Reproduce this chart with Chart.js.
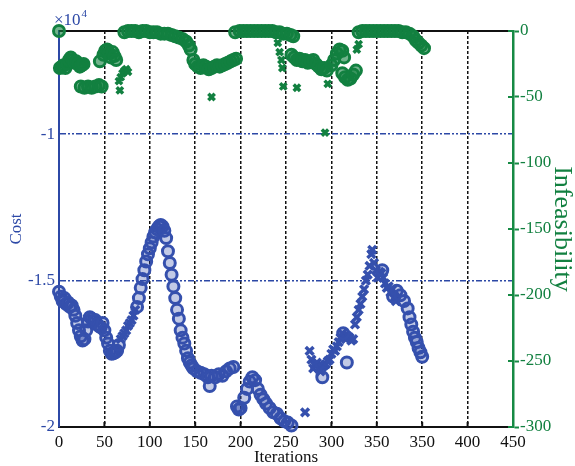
<!DOCTYPE html>
<html>
<head>
<meta charset="utf-8">
<script src="https://cdn.jsdelivr.net/npm/chart.js@4/dist/chart.umd.min.js"></script>
<style>
  body { margin: 0; background: #fff; }
  canvas { display: block; }
</style>
</head>
<body>
<canvas id="chart" width="575" height="466"></canvas>
<script>
// x axis runs 0..500 internally, labels copied from the figure (it repeats 350)
const xTickValues = [0, 50, 100, 150, 200, 250, 300, 350, 400, 450, 500];
const xTickLabels = ['0', '50', '100', '150', '200', '250', '300', '350', '350', '400', '450'];

const costTicks = [-20000, -15000, -10000];
const costTickLabels = ['-2', '-1.5', '-1'];

// cost, circle markers
const costCircleIter = [0, 2, 4, 6, 8, 10, 12, 14, 16, 18, 20, 22, 24, 26, 28, 30, 32, 34, 36, 38,
  40, 42, 44, 46, 48, 50, 52, 54, 56, 58, 60, 62, 64, 66, 86, 88, 90, 92, 94, 96,
  98, 100, 102, 104, 106, 108, 110, 112, 114, 116, 118, 120, 122, 124, 126, 128, 130, 132, 134, 136,
  138, 140, 142, 144, 146, 148, 152, 156, 160, 164, 166, 168, 172, 176, 180, 184, 188, 192, 196, 198,
  200, 204, 207, 210, 213, 216, 219, 222, 225, 228, 232, 236, 240, 244, 248, 252, 256, 290, 313, 317,
  356, 368, 372, 376, 380, 384, 386, 388, 390, 392, 394, 396, 398, 400];
const costCircleVal = [-15380, -15550, -15700, -15600, -15800, -15750, -15900, -15850, -16000, -16200,
  -16450, -16700, -16900, -17050, -17000, -16700, -16400, -16250, -16300, -16400,
  -16350, -16500, -16550, -16600, -16450, -16700, -16950, -17150, -17400, -17500,
  -17480, -17450, -17400, -17200, -15900, -15600, -15250, -14950, -14650, -14350,
  -14100, -13900, -13700, -13500, -13350, -13250, -13150, -13100, -13150, -13300,
  -13550, -14000, -14400, -14800, -15200, -15600, -16000, -16300, -16700, -16950,
  -17150, -17400, -17650, -17800, -17900, -18000, -18100, -18150, -18200, -18300,
  -18600, -18250, -18300, -18200, -18250, -18100, -18000, -17950, -19300, -19400,
  -19350, -19000, -18700, -18450, -18300, -18400, -18700, -18900, -19050, -19200,
  -19350, -19500, -19550, -19700, -19800, -19850, -19950, -18300, -16800, -17800,
  -14650, -15550, -15350, -15500, -15700, -15950, -16250, -16500, -16750, -16950,
  -17100, -17300, -17450, -17600];

// cost, x markers
const costCrossIter = [68, 70, 72, 74, 76, 78, 80, 82, 84, 271, 276, 278, 280, 282, 284, 286, 288, 290,
  292, 294, 296, 298, 300, 302, 304, 306, 308, 310, 312, 314, 316, 318, 320, 322, 324, 326,
  328, 330, 332, 334, 336, 338, 340, 342, 344, 345, 347, 349, 351, 353, 355, 357, 359, 361,
  363, 365, 367, 369, 371];
const costCrossVal = [-17000, -16900, -16800, -16700, -16550, -16450, -16350, -16200, -16000, -19500,
  -17400, -17700, -18000, -17900, -17800, -18000, -18100, -17950, -17900, -17850,
  -17750, -17700, -17500, -17350, -17400, -17250, -17100, -16950, -16800, -16900,
  -17000, -16900, -16950, -17050, -17000, -16500, -16250, -16000, -15800, -15550,
  -15300, -15000, -14800, -14500, -14100, -13950, -14400, -14650, -14900, -14700,
  -14750, -14900, -15100, -15250, -15200, -15400, -15300, -15600, -15700];

// infeasibility, circle markers
const infCircleIter = [0, 1, 3, 5, 7, 9, 11, 13, 15, 17, 19, 21, 23, 25, 27, 24, 28, 32, 36, 40,
  44, 47, 45, 49, 51, 53, 55, 57, 59, 61, 63, 72, 76, 80, 84, 88, 92, 96, 100, 104,
  108, 112, 116, 120, 124, 128, 132, 136, 140, 143, 145, 148, 150, 153, 156, 159, 162, 165, 168, 171,
  174, 177, 180, 183, 186, 189, 192, 195, 194, 199, 203, 207, 211, 215, 219, 223, 227, 231, 235, 239,
  243, 247, 251, 255, 258, 256, 259, 262, 265, 268, 271, 274, 277, 280, 283, 286, 289, 292, 295, 300,
  303, 306, 309, 312, 314, 312, 315, 318, 321, 324, 327, 330, 334, 338, 342, 346, 350, 354, 358, 362,
  366, 370, 374, 378, 382, 386, 390, 393, 396, 399, 402];
const infCircleVal = [0, -28, -27, -26, -28, -25, -22, -20, -22, -24, -23, -25, -27, -26, -25, -42, -43, -42, -43, -42,
  -41, -42, -23, -18, -15, -14, -17, -20, -16, -19, -22, -1, 0, 0, 0, -1, 0, 0, -1, -1,
  -1, -2, -2, -2, -3, -4, -5, -6, -8, -11, -14, -22, -25, -27, -28, -26, -27, -29, -28, -27,
  -26, -27, -26, -25, -24, -23, -22, -21, -1, 0, 0, 0, 0, 0, 0, 0, 0, 0, 0, -1,
  -1, -2, -2, -3, -4, -18, -20, -22, -21, -23, -22, -24, -23, -22, -25, -27, -29, -28, -30, -26,
  -22, -17, -14, -15, -20, -32, -35, -37, -36, -33, -30, -1, 0, 0, 0, 0, 0, 0, 0, 0,
  0, 0, 0, -1, -1, -2, -4, -7, -9, -11, -13];

// infeasibility, x markers
const infCrossIter = [66, 68, 70, 72, 74, 76, 67, 168, 241, 243, 245, 246, 247, 262, 293, 296, 328, 330];
const infCrossVal = [-38, -35, -32, -30, -29, -31, -45, -50, -9, -16, -22, -28, -42, -43, -77, -40, -14, -10];

const blue = '#3550ad';
const blueAxis = '#2c48a6';
const green = '#128040';
const greenAxis = '#168a44';
const serif = "'Liberation Serif', 'Times New Roman', serif";

function points(xs, ys) {
  return xs.map((x, i) => ({ x: x, y: ys[i] }));
}

const framePlugin = {
  id: 'frame',
  beforeDatasetsDraw(chart) {
    const { ctx, chartArea: a, scales } = chart;
    ctx.save();
    ctx.strokeStyle = '#111';
    ctx.lineWidth = 2;
    ctx.beginPath();
    ctx.moveTo(a.left, a.top);
    ctx.lineTo(a.right, a.top);
    ctx.stroke();
    // short inward ticks on the bottom axis
    xTickValues.slice(1, -1).forEach(v => {
      const px = scales.x.getPixelForValue(v);
      ctx.beginPath();
      ctx.moveTo(px, a.bottom);
      ctx.lineTo(px, a.bottom - 5);
      ctx.stroke();
    });
    // right axis ticks cross the axis line
    ctx.strokeStyle = greenAxis;
    scales.y2.ticks.forEach(t => {
      const py = scales.y2.getPixelForValue(t.value);
      ctx.beginPath();
      ctx.moveTo(a.right - 5, py);
      ctx.lineTo(a.right, py);
      ctx.stroke();
    });
    ctx.restore();
  },
  afterDraw(chart) {
    const { ctx, chartArea: a } = chart;
    ctx.save();
    ctx.fillStyle = blueAxis;
    ctx.textBaseline = 'alphabetic';
    ctx.font = '17px ' + serif;
    ctx.fillText('\u00d710', a.left - 5, a.top - 6);
    const w = ctx.measureText('\u00d710').width;
    ctx.font = '11px ' + serif;
    ctx.fillText('4', a.left - 5 + w + 1, a.top - 14);
    ctx.restore();
  }
};

new Chart(document.getElementById('chart'), {
  type: 'scatter',
  data: {
    datasets: [
      {
        label: 'Cost',
        data: points(costCircleIter, costCircleVal),
        yAxisID: 'y',
        pointStyle: 'circle',
        pointRadius: 5.5,
        borderWidth: 3,
        borderColor: blue,
        backgroundColor: 'rgba(53,80,173,0.3)',
        clip: false
      },
      {
        label: 'Cost x',
        data: points(costCrossIter, costCrossVal),
        yAxisID: 'y',
        pointStyle: 'crossRot',
        pointRadius: 5.5,
        borderWidth: 3.5,
        borderColor: blue,
        backgroundColor: blue,
        clip: false
      },
      {
        label: 'Infeasibility',
        data: points(infCircleIter, infCircleVal),
        yAxisID: 'y2',
        pointStyle: 'circle',
        pointRadius: 5.5,
        borderWidth: 3,
        borderColor: green,
        backgroundColor: 'rgba(18,128,64,0.6)',
        clip: false
      },
      {
        label: 'Infeasibility x',
        data: points(infCrossIter, infCrossVal),
        yAxisID: 'y2',
        pointStyle: 'crossRot',
        pointRadius: 4.5,
        borderWidth: 3.5,
        borderColor: green,
        backgroundColor: green,
        clip: false
      }
    ]
  },
  options: {
    responsive: false,
    animation: false,
    layout: { padding: { top: 31, left: 0, right: 0, bottom: 0 } },
    plugins: {
      legend: { display: false },
      tooltip: { enabled: false }
    },
    scales: {
      x: {
        type: 'linear',
        position: 'bottom',
        min: 0,
        max: 500,
        afterBuildTicks: s => { s.ticks = xTickValues.map(v => ({ value: v })); },
        afterFit: s => { s.height = 39; },
        ticks: {
          color: '#111',
          padding: 5,
          maxRotation: 0,
          autoSkip: false,
          font: { family: serif, size: 17 },
          callback: (v, i) => xTickLabels[i]
        },
        grid: {
          drawTicks: false,
          lineWidth: 1.5,
          color: c => (c.tick && (c.tick.value === 0 || c.tick.value === 500)) ? 'rgba(0,0,0,0)' : '#111'
        },
        border: { color: '#111', width: 2, dash: [3, 2] },
        title: {
          display: true,
          text: 'Iterations',
          color: '#111',
          padding: 0,
          font: { family: serif, size: 17, lineHeight: 1 }
        }
      },
      y: {
        type: 'linear',
        position: 'left',
        min: -20000,
        max: -6480,
        afterBuildTicks: s => { s.ticks = costTicks.map(v => ({ value: v })); },
        afterFit: s => { s.width = 59; },
        ticks: {
          color: blueAxis,
          padding: 4,
          font: { family: serif, size: 17 },
          callback: (v, i) => costTickLabels[i]
        },
        grid: {
          drawTicks: false,
          lineWidth: 1.5,
          color: c => (c.tick && c.tick.value === -20000) ? 'rgba(0,0,0,0)' : blueAxis
        },
        border: { color: blueAxis, width: 2, dash: [6, 2, 2, 2, 2, 2] },
        title: {
          display: true,
          text: 'Cost',
          color: blueAxis,
          padding: 8,
          font: { family: serif, size: 17, lineHeight: 1 }
        }
      },
      y2: {
        type: 'linear',
        position: 'right',
        min: -300,
        max: 0,
        afterFit: s => { s.width = 62; },
        ticks: {
          stepSize: 50,
          color: green,
          padding: 1,
          font: { family: serif, size: 17 }
        },
        grid: {
          drawOnChartArea: false,
          drawTicks: true,
          tickLength: 6,
          tickWidth: 2,
          tickColor: greenAxis
        },
        border: { color: greenAxis, width: 2.5 },
        title: {
          display: true,
          text: 'Infeasibility',
          color: green,
          padding: 0,
          font: { family: serif, size: 26, lineHeight: 1 }
        }
      }
    }
  },
  plugins: [framePlugin]
});
</script>
</body>
</html>
